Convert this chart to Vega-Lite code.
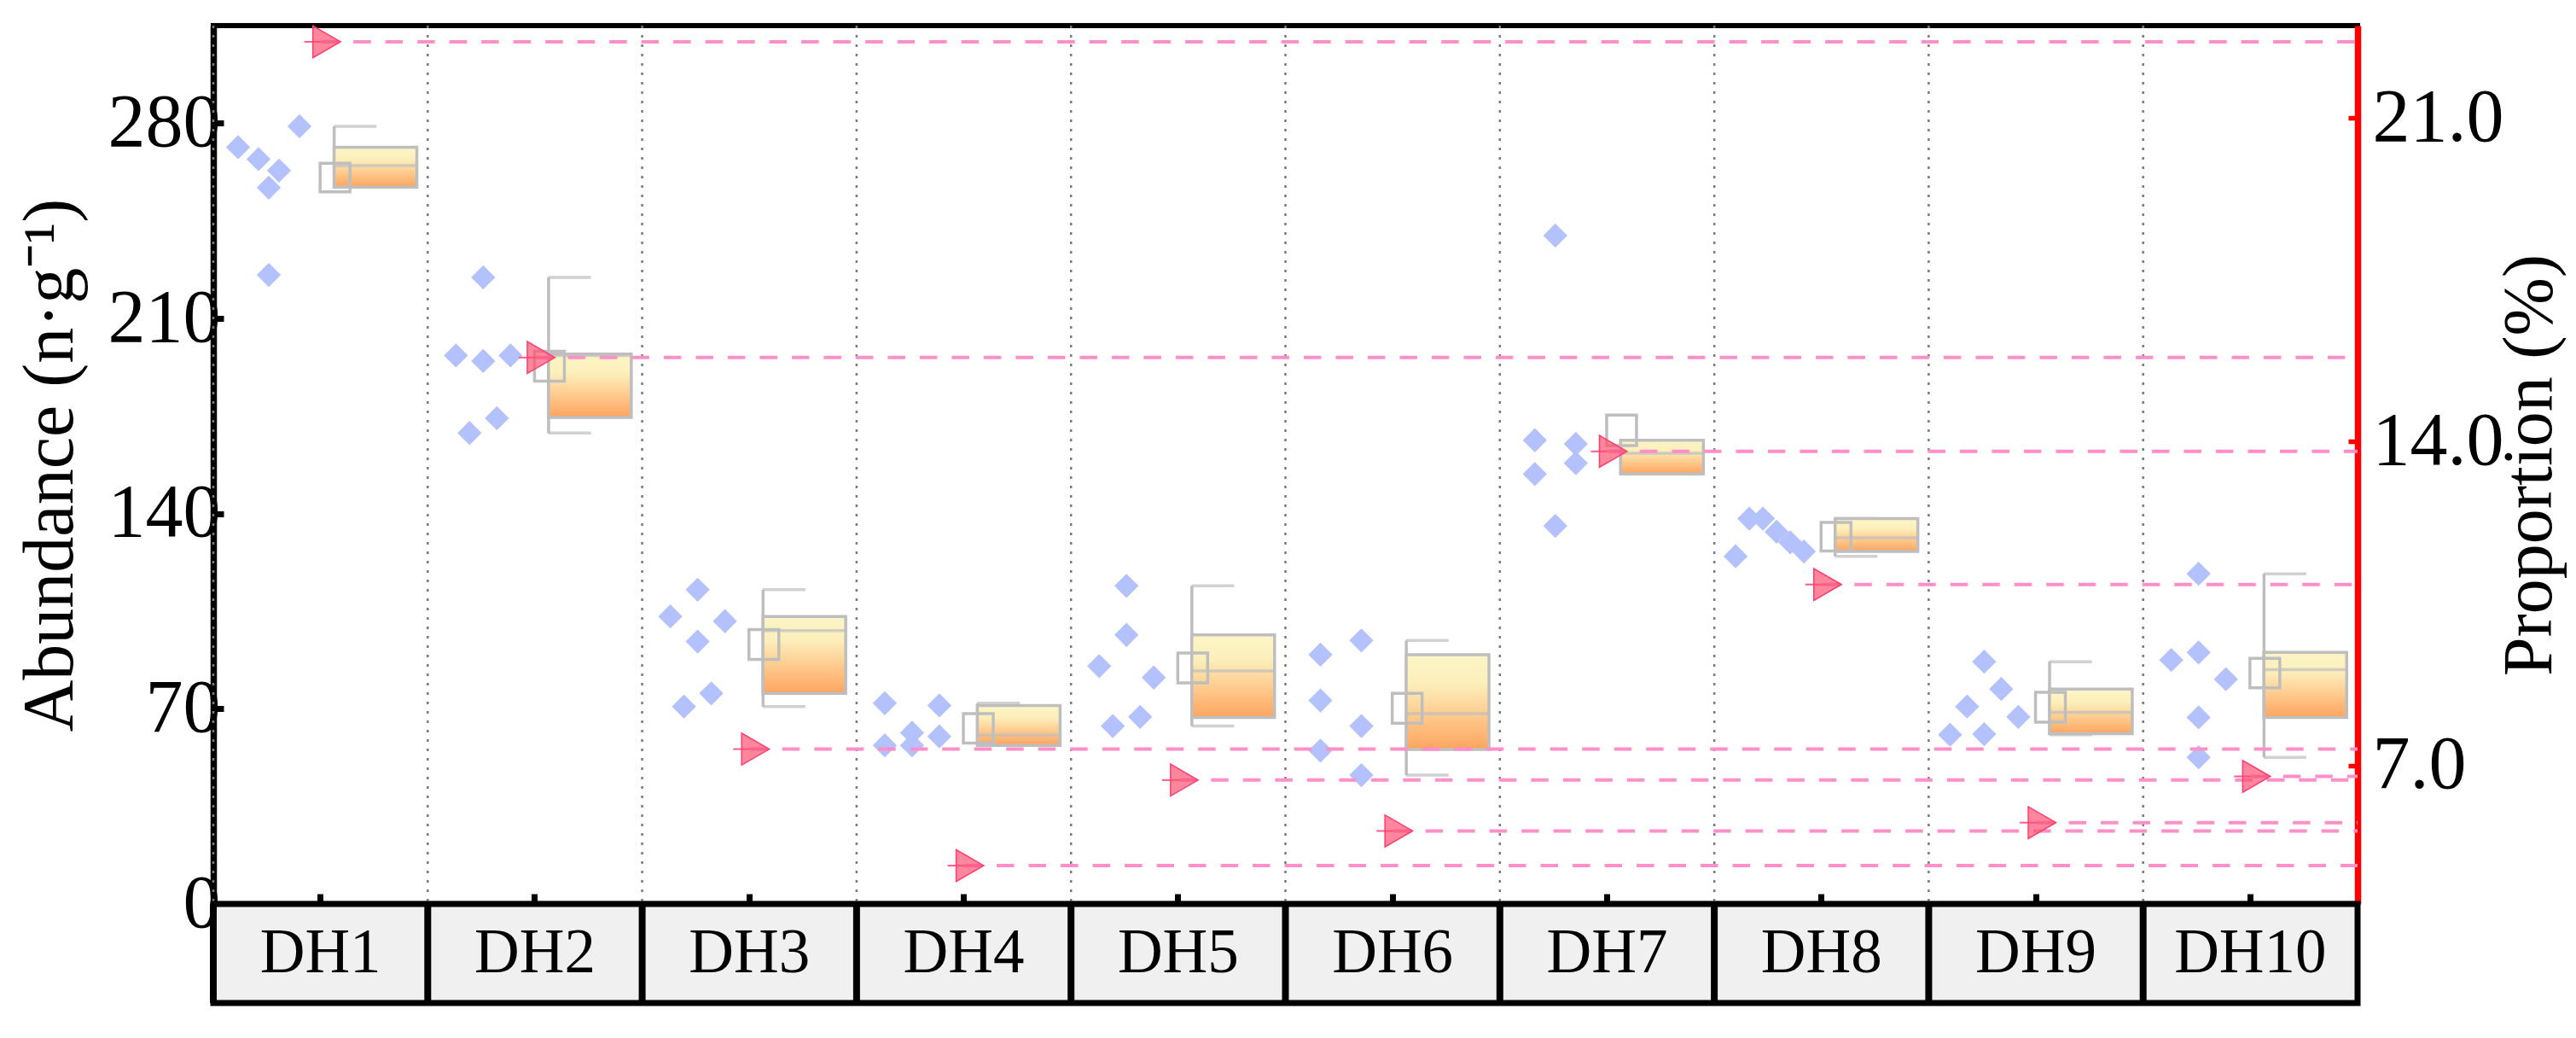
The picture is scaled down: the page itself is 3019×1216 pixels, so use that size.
{
  "$schema": "https://vega.github.io/schema/vega-lite/v6.json",
  "background": "white",
  "padding": {"left": 14, "top": 24, "right": 2, "bottom": 5},
  "datasets": {
    "raw": [
      {"site": "DH1", "jitter": 0, "abundance": 271.4},
      {"site": "DH1", "jitter": 6, "abundance": 267.1},
      {"site": "DH1", "jitter": 12, "abundance": 263.0},
      {"site": "DH1", "jitter": 9, "abundance": 256.9},
      {"site": "DH1", "jitter": 18, "abundance": 278.9},
      {"site": "DH1", "jitter": 9, "abundance": 225.6},
      {"site": "DH2", "jitter": 1, "abundance": 196.7},
      {"site": "DH2", "jitter": 9, "abundance": 194.7},
      {"site": "DH2", "jitter": 17, "abundance": 196.7},
      {"site": "DH2", "jitter": 5, "abundance": 168.9},
      {"site": "DH2", "jitter": 13, "abundance": 174.2},
      {"site": "DH2", "jitter": 9, "abundance": 224.7},
      {"site": "DH3", "jitter": 1, "abundance": 103.1},
      {"site": "DH3", "jitter": 9, "abundance": 112.7},
      {"site": "DH3", "jitter": 17, "abundance": 101.4},
      {"site": "DH3", "jitter": 9, "abundance": 94.1},
      {"site": "DH3", "jitter": 5, "abundance": 70.8},
      {"site": "DH3", "jitter": 13, "abundance": 75.5},
      {"site": "DH4", "jitter": 1, "abundance": 72.0},
      {"site": "DH4", "jitter": 1, "abundance": 56.9},
      {"site": "DH4", "jitter": 9, "abundance": 61.4},
      {"site": "DH4", "jitter": 9, "abundance": 56.9},
      {"site": "DH4", "jitter": 17, "abundance": 71.2},
      {"site": "DH4", "jitter": 17, "abundance": 60.1},
      {"site": "DH5", "jitter": 1, "abundance": 85.3},
      {"site": "DH5", "jitter": 5, "abundance": 63.8},
      {"site": "DH5", "jitter": 9, "abundance": 114.1},
      {"site": "DH5", "jitter": 9, "abundance": 96.5},
      {"site": "DH5", "jitter": 13, "abundance": 67.1},
      {"site": "DH5", "jitter": 17, "abundance": 81.2},
      {"site": "DH6", "jitter": 3, "abundance": 89.4},
      {"site": "DH6", "jitter": 3, "abundance": 73.0},
      {"site": "DH6", "jitter": 3, "abundance": 55.0},
      {"site": "DH6", "jitter": 15, "abundance": 94.5},
      {"site": "DH6", "jitter": 15, "abundance": 63.8},
      {"site": "DH6", "jitter": 15, "abundance": 46.2},
      {"site": "DH7", "jitter": 3, "abundance": 166.3},
      {"site": "DH7", "jitter": 3, "abundance": 154.2},
      {"site": "DH7", "jitter": 9, "abundance": 239.7},
      {"site": "DH7", "jitter": 9, "abundance": 135.6},
      {"site": "DH7", "jitter": 15, "abundance": 165.0},
      {"site": "DH7", "jitter": 15, "abundance": 158.1},
      {"site": "DH8", "jitter": -1, "abundance": 124.7},
      {"site": "DH8", "jitter": 3, "abundance": 138.2},
      {"site": "DH8", "jitter": 7, "abundance": 138.2},
      {"site": "DH8", "jitter": 11, "abundance": 133.5},
      {"site": "DH8", "jitter": 15, "abundance": 129.7},
      {"site": "DH8", "jitter": 19, "abundance": 126.4},
      {"site": "DH9", "jitter": -1, "abundance": 60.7},
      {"site": "DH9", "jitter": 4, "abundance": 70.8},
      {"site": "DH9", "jitter": 9, "abundance": 86.9},
      {"site": "DH9", "jitter": 9, "abundance": 60.9},
      {"site": "DH9", "jitter": 14, "abundance": 77.1},
      {"site": "DH9", "jitter": 19, "abundance": 67.1},
      {"site": "DH10", "jitter": 1, "abundance": 87.5},
      {"site": "DH10", "jitter": 9, "abundance": 118.4},
      {"site": "DH10", "jitter": 9, "abundance": 90.2},
      {"site": "DH10", "jitter": 9, "abundance": 66.9},
      {"site": "DH10", "jitter": 9, "abundance": 52.6},
      {"site": "DH10", "jitter": 17, "abundance": 80.6}
    ],
    "summary": [
      {"site": "DH1", "q1": 257.1, "median": 264.8, "q3": 271.4, "wlo": 257.1, "whi": 278.9, "mlo": 255.4, "mhi": 265.6, "prop": 22.65},
      {"site": "DH2", "q1": 174.5, "median": 196.7, "q3": 197.2, "wlo": 168.9, "whi": 224.7, "mlo": 187.5, "mhi": 198.2, "prop": 15.82},
      {"site": "DH3", "q1": 75.5, "median": 98.0, "q3": 103.1, "wlo": 70.8, "whi": 112.7, "mlo": 87.7, "mhi": 98.4, "prop": 7.35},
      {"site": "DH4", "q1": 56.9, "median": 60.5, "q3": 71.2, "wlo": 56.9, "whi": 72.0, "mlo": 57.7, "mhi": 68.3, "prop": 4.83},
      {"site": "DH5", "q1": 66.9, "median": 83.6, "q3": 96.5, "wlo": 63.8, "whi": 114.1, "mlo": 79.3, "mhi": 90.0, "prop": 6.68},
      {"site": "DH6", "q1": 55.4, "median": 68.3, "q3": 89.4, "wlo": 46.2, "whi": 94.5, "mlo": 64.8, "mhi": 75.5, "prop": 5.58},
      {"site": "DH7", "q1": 154.2, "median": 161.6, "q3": 166.3, "wlo": 154.2, "whi": 166.3, "mlo": 164.4, "mhi": 175.3, "prop": 13.79},
      {"site": "DH8", "q1": 126.4, "median": 131.3, "q3": 138.2, "wlo": 124.7, "whi": 138.2, "mlo": 126.6, "mhi": 136.8, "prop": 10.91},
      {"site": "DH9", "q1": 61.1, "median": 68.7, "q3": 77.1, "wlo": 60.7, "whi": 86.9, "mlo": 65.2, "mhi": 75.9, "prop": 5.76},
      {"site": "DH10", "q1": 66.9, "median": 84.0, "q3": 90.2, "wlo": 52.6, "whi": 118.4, "mlo": 77.5, "mhi": 88.1, "prop": 6.76}
    ]
  },
  "spacing": 0,
  "bounds": "flush",
  "vconcat": [
    {
      "width": 2513,
      "height": 1029,
      "view": {"stroke": "black", "strokeWidth": 6},
      "encoding": {
        "x": {
          "field": "site", "type": "nominal",
          "scale": {"domain": ["DH1","DH2","DH3","DH4","DH5","DH6","DH7","DH8","DH9","DH10"], "paddingInner": 0, "paddingOuter": 0},
          "axis": {"title": null}
        }
      },
      "layer": [
        {
          "data": {"name": "summary"},
          "mark": {"type": "rule", "color": "#7a7a7a", "strokeWidth": 2.5, "strokeDash": [3, 8]},
          "encoding": {
            "x": {
              "field": "site", "type": "nominal", "bandPosition": 0,
              "scale": {"domain": ["DH1","DH2","DH3","DH4","DH5","DH6","DH7","DH8","DH9","DH10"], "paddingInner": 0, "paddingOuter": 0},
              "axis": {"title": null}
            }
          }
        },
        {
          "layer": [
            {
              "data": {"name": "summary"},
              "mark": {"type": "rule", "color": "#bebebe", "strokeWidth": 3.5, "xOffset": 16},
              "encoding": {
                "y": {"field": "wlo", "type": "quantitative", "scale": {"domain": [0, 315], "nice": false, "zero": false}, "axis": {"orient": "left", "title": "Abundance (n·g⁻¹)", "values": [0, 70, 140, 210, 280]}},
                "y2": {"field": "whi"}
              }
            },
            {
              "data": {"name": "summary"},
              "mark": {"type": "tick", "color": "#bebebe", "size": 50, "thickness": 3.5, "xOffset": 40.6},
              "encoding": {
                "y": {"field": "whi", "type": "quantitative", "scale": {"domain": [0, 315], "nice": false, "zero": false}, "axis": {"orient": "left", "title": "Abundance (n·g⁻¹)", "values": [0, 70, 140, 210, 280]}}
              }
            },
            {
              "data": {"name": "summary"},
              "mark": {"type": "tick", "color": "#bebebe", "size": 50, "thickness": 3.5, "xOffset": 40.6},
              "encoding": {
                "y": {"field": "wlo", "type": "quantitative", "scale": {"domain": [0, 315], "nice": false, "zero": false}, "axis": {"orient": "left", "title": "Abundance (n·g⁻¹)", "values": [0, 70, 140, 210, 280]}}
              }
            },
            {
              "data": {"name": "summary"},
              "mark": {
                "type": "bar", "width": 97, "xOffset": 64.4,
                "fill": {"gradient": "linear", "x1": 0, "y1": 0, "x2": 0, "y2": 1,
                  "stops": [{"offset": 0, "color": "#fcf5c6"}, {"offset": 0.3, "color": "#fcefbb"}, {"offset": 1, "color": "#ffa45e"}]},
                "stroke": "#bebebe", "strokeWidth": 3.5
              },
              "encoding": {
                "y": {"field": "q1", "type": "quantitative", "scale": {"domain": [0, 315], "nice": false, "zero": false}, "axis": {"orient": "left", "title": "Abundance (n·g⁻¹)", "values": [0, 70, 140, 210, 280]}},
                "y2": {"field": "q3"}
              }
            },
            {
              "data": {"name": "summary"},
              "mark": {"type": "tick", "color": "#bebebe", "size": 97, "thickness": 3.5, "xOffset": 64.4},
              "encoding": {
                "y": {"field": "median", "type": "quantitative", "scale": {"domain": [0, 315], "nice": false, "zero": false}, "axis": {"orient": "left", "title": "Abundance (n·g⁻¹)", "values": [0, 70, 140, 210, 280]}}
              }
            },
            {
              "data": {"name": "summary"},
              "mark": {"type": "bar", "width": 35, "xOffset": 17, "fill": "white", "fillOpacity": 0, "stroke": "#bebebe", "strokeWidth": 3.5},
              "encoding": {
                "y": {"field": "mlo", "type": "quantitative", "scale": {"domain": [0, 315], "nice": false, "zero": false}, "axis": {"orient": "left", "title": "Abundance (n·g⁻¹)", "values": [0, 70, 140, 210, 280]}},
                "y2": {"field": "mhi"}
              }
            },
            {
              "data": {"name": "raw"},
              "mark": {"type": "point", "shape": "diamond", "size": 800, "filled": true, "color": "#b3c1fc", "opacity": 1},
              "encoding": {
                "xOffset": {"field": "jitter", "type": "quantitative", "scale": {"domain": [-1, 19], "range": [25, 105]}},
                "y": {"field": "abundance", "type": "quantitative", "scale": {"domain": [0, 315], "nice": false, "zero": false}, "axis": {"orient": "left", "title": "Abundance (n·g⁻¹)", "values": [0, 70, 140, 210, 280]}}
              }
            }
          ]
        },
        {
          "data": {"name": "summary"},
          "encoding": {
            "y": {"field": "prop", "type": "quantitative", "scale": {"domain": [4, 23], "nice": false, "zero": false}, "axis": {"orient": "right", "title": "Proportion (%)", "values": [7, 14, 21], "format": ".1f"}}
          },
          "layer": [
            {
              "mark": {"type": "rule", "color": "#ff5b8f", "strokeWidth": 2, "xOffset": -19, "x2Offset": 1},
              "encoding": {"x2": {"field": "site"}}
            },
            {
              "mark": {"type": "rule", "color": "#ff8fc8", "strokeWidth": 4, "strokeDash": [20.5, 17], "xOffset": 1},
              "encoding": {"x2": {"value": "width"}}
            },
            {
              "mark": {"type": "point", "shape": "triangle-right", "size": 1400, "filled": true, "fill": "#ff4d6d", "fillOpacity": 0.68, "stroke": "#ff3d6e", "strokeWidth": 1.5, "strokeOpacity": 1, "xOffset": 7.2},
              "encoding": {}
            }
          ]
        }
      ],
      "resolve": {"scale": {"y": "independent"}, "axis": {"y": "independent"}}
    },
    {
      "width": 2513,
      "height": 116,
      "view": {"fill": "#f0f0f0", "stroke": "black", "strokeWidth": 7},
      "data": {"name": "summary"},
      "encoding": {
        "x": {
          "field": "site", "type": "nominal",
          "scale": {"domain": ["DH1","DH2","DH3","DH4","DH5","DH6","DH7","DH8","DH9","DH10"], "paddingInner": 0, "paddingOuter": 0},
          "axis": null
        }
      },
      "layer": [
        {
          "mark": {"type": "rule", "color": "black", "strokeWidth": 8},
          "encoding": {"x": {"field": "site", "type": "nominal", "bandPosition": 0, "scale": {"domain": ["DH1","DH2","DH3","DH4","DH5","DH6","DH7","DH8","DH9","DH10"], "paddingInner": 0, "paddingOuter": 0}, "axis": null}}
        },
        {"mark": {"type": "text", "font": "Liberation Serif", "fontSize": 73, "color": "black"}, "encoding": {"text": {"field": "site"}}}
      ]
    }
  ],
  "config": {
    "font": "Liberation Serif",
    "axisX": {
      "labels": false, "grid": false,
      "domainColor": "black", "domainWidth": 7.5,
      "tickColor": "black", "tickWidth": 7, "tickSize": -12, "tickBand": "center"
    },
    "axisLeft": {
      "grid": false, "domainColor": "black", "domainWidth": 7.5,
      "tickColor": "black", "tickWidth": 7, "tickSize": -12,
      "labelFont": "Liberation Serif", "labelFontSize": 88, "labelColor": "black",
      "labelPadding": 4, "labelFlush": false, "labelOverlap": false, "labelBound": false,
      "titleFont": "Liberation Serif", "titleFontSize": 84, "titleFontWeight": "normal", "titleColor": "black", "titlePadding": 24
    },
    "axisRight": {
      "grid": false, "domainColor": "#ff0000", "domainWidth": 7.5,
      "tickColor": "#ff0000", "tickWidth": 5.5, "tickSize": -11,
      "labelFont": "Liberation Serif", "labelFontSize": 88, "labelColor": "black",
      "labelPadding": 28, "labelFlush": false, "labelOverlap": false, "labelBound": false,
      "titleFont": "Liberation Serif", "titleFontSize": 82, "titleFontWeight": "normal", "titleColor": "black",
      "titlePadding": -10, "titleAngle": 270, "titleBaseline": "top"
    }
  }
}
